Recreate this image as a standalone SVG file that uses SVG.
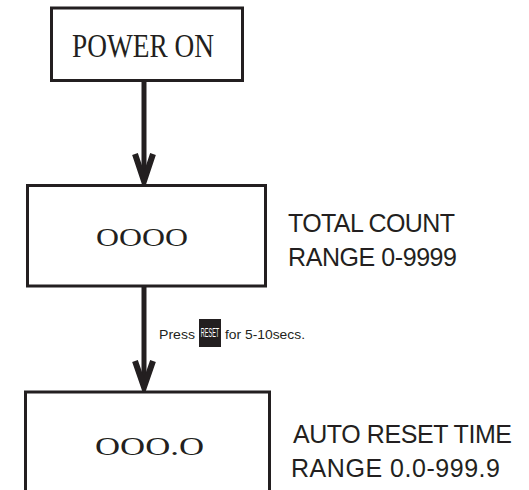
<svg xmlns="http://www.w3.org/2000/svg" width="529" height="490" viewBox="0 0 529 490">
<style>
.box{fill:#fff;stroke:#231f20;stroke-width:3}
.serif{font-family:"Liberation Serif","Times New Roman",serif;fill:#231f20}
.sans{font-family:"Liberation Sans",Arial,sans-serif;fill:#231f20}
.shaft{stroke:#231f20;stroke-width:5;fill:none}
.head{stroke:#231f20;stroke-width:6;fill:none;stroke-linejoin:miter;stroke-miterlimit:10}
</style>
<rect width="529" height="490" fill="#fff"/>
<g id="connectors">
<line class="shaft" x1="144" y1="81" x2="144" y2="180"/>
<polyline class="head" points="135,154 144,181 153,154"/>
<line class="shaft" x1="144" y1="287" x2="144" y2="386"/>
<polyline class="head" points="135,361 144,387 153,361"/>
<g id="label">
<text class="sans" x="159" y="339" font-size="13.5" textLength="36" lengthAdjust="spacingAndGlyphs">Press</text>
<rect x="199" y="319" width="22" height="28" fill="#231f20"/>
<text class="sans" transform="translate(210 337) scale(0.44 1)" x="0" y="0" font-size="12.5" style="fill:#fff" text-anchor="middle">RESET</text>
<text class="sans" x="225" y="339" font-size="13.5" textLength="80" lengthAdjust="spacingAndGlyphs">for 5-10secs.</text>
</g>
</g>
<g id="power-on">
<rect class="box" x="51.5" y="8" width="191" height="72.5"/>
<text class="serif" x="72" y="57" font-size="33" textLength="142" lengthAdjust="spacingAndGlyphs">POWER ON</text>
</g>
<g id="total-count">
<rect class="box" x="27.5" y="185.5" width="238" height="100.5"/>
<text class="serif" x="96" y="246" font-size="25" textLength="92" lengthAdjust="spacingAndGlyphs">OOOO</text>
<text class="sans" x="288" y="232" font-size="25" textLength="167">TOTAL COUNT</text>
<text class="sans" x="288" y="266" font-size="25" textLength="169">RANGE 0-9999</text>
</g>
<g id="auto-reset">
<rect class="box" x="25.5" y="392" width="244" height="120"/>
<text class="serif" x="95" y="455" font-size="25" textLength="109" lengthAdjust="spacingAndGlyphs">OOO.O</text>
<text class="sans" x="293" y="443" font-size="25" textLength="219">AUTO RESET TIME</text>
<text class="sans" x="291" y="477" font-size="25" textLength="209">RANGE 0.0-999.9</text>
</g>
</svg>
